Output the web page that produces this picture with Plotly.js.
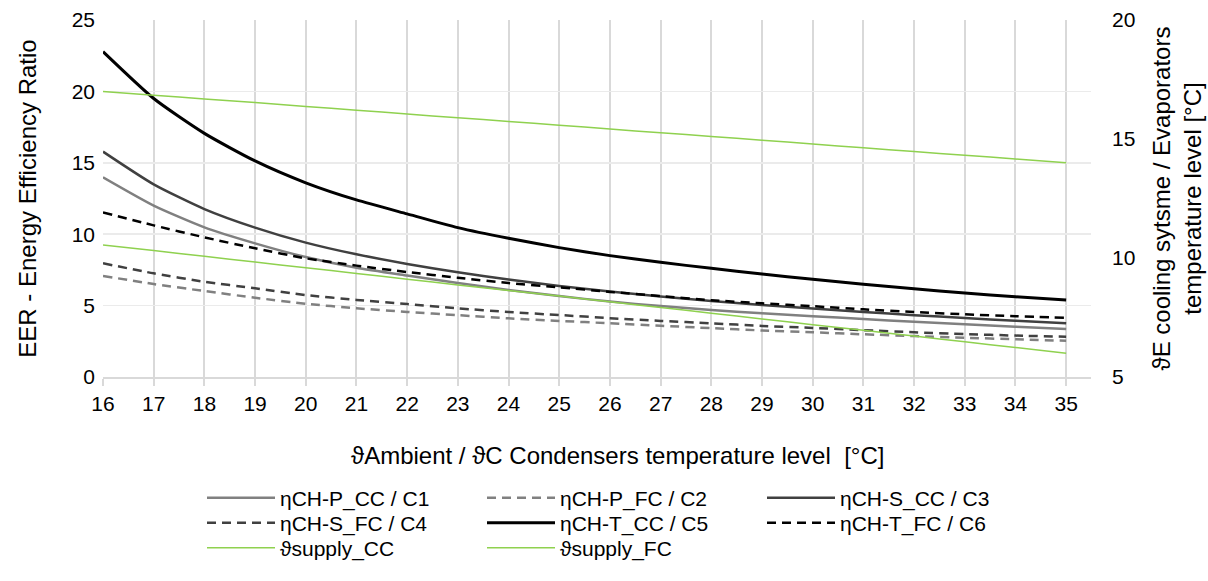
<!DOCTYPE html>
<html>
<head>
<meta charset="utf-8">
<script src="https://cdn.plot.ly/plotly-3.0.1.min.js"></script>
<style>html,body{margin:0;padding:0;background:#fff;}#chart{width:1208px;height:581px;}</style>
</head>
<body>
<div id="chart"></div>
<script>
// Ambient / condenser temperature (°C)
const temps = [16,17,18,19,20,21,22,23,24,25,26,27,28,29,30,31,32,33,34,35];

// EER series (left axis)
const C1 = [13.98,12.00,10.48,9.36,8.40,7.65,7.10,6.58,6.10,5.67,5.28,4.97,4.69,4.46,4.26,4.06,3.87,3.69,3.52,3.36];
const C2 = [7.08,6.51,6.02,5.55,5.13,4.81,4.56,4.33,4.11,3.93,3.76,3.59,3.42,3.26,3.13,2.99,2.87,2.75,2.64,2.54];
const C3 = [15.78,13.49,11.76,10.46,9.41,8.59,7.92,7.33,6.82,6.38,5.99,5.64,5.33,5.05,4.79,4.55,4.33,4.13,3.94,3.76];
const C4 = [7.96,7.26,6.67,6.21,5.74,5.40,5.11,4.81,4.55,4.34,4.12,3.93,3.76,3.58,3.44,3.28,3.13,3.01,2.90,2.82];
const C5 = [22.78,19.50,17.06,15.13,13.60,12.40,11.42,10.46,9.71,9.06,8.50,8.03,7.61,7.21,6.84,6.49,6.18,5.88,5.62,5.39];
const C6 = [11.53,10.62,9.78,9.01,8.31,7.80,7.35,6.95,6.58,6.28,5.96,5.67,5.38,5.16,4.96,4.74,4.55,4.39,4.26,4.15];

// Supply temperatures (right axis, °C)
const supplyCC = [17.00,16.84,16.68,16.53,16.37,16.21,16.05,15.89,15.74,15.58,15.42,15.26,15.11,14.95,14.79,14.63,14.47,14.32,14.16,14.00];
const supplyFC = [10.55,10.31,10.07,9.83,9.59,9.35,9.11,8.87,8.63,8.40,8.16,7.92,7.68,7.44,7.20,6.96,6.72,6.48,6.24,6.00];

const names = ['ηCH-P_CC / C1','ηCH-P_FC / C2','ηCH-S_CC / C3','ηCH-S_FC / C4','ηCH-T_CC / C5','ηCH-T_FC / C6','ϑsupply_CC','ϑsupply_FC'];
const xTitle = 'ϑAmbient / ϑC Condensers temperature level  [°C]';
const yTitle = 'EER - Energy Efficiency Ratio';
const y2Title = 'ϑE cooling sytsme / Evaporators<br>temperature level [°C]';

const FONT = 'Liberation Sans, Arial, sans-serif';
const GREEN = '#8fd14f';
const sm = 0.6;

function tr(y, name, color, width, dash, legend, yaxis) {
  return {
    x: temps, y: y, name: name, type: 'scatter', mode: 'lines',
    line: {color: color, width: width, dash: dash, shape: 'spline', smoothing: sm},
    legend: legend, yaxis: yaxis || 'y', hoverinfo: 'x+y+name'
  };
}

// legend rows: row 1 = legend, row 2 = legend2, row 3 = legend3
const data = [
  tr(C1, names[0], '#808080', 2.5, 'solid', 'legend'),
  tr(C2, names[1], '#808080', 2.5, '9px,6px', 'legend'),
  tr(C3, names[2], '#404040', 2.5, 'solid', 'legend'),
  tr(C4, names[3], '#404040', 2.5, '9px,6px', 'legend2'),
  tr(C5, names[4], '#000000', 3, 'solid', 'legend2'),
  tr(C6, names[5], '#000000', 2.5, '9px,6px', 'legend2'),
  tr(supplyCC, names[6], GREEN, 1.5, 'solid', 'legend3', 'y2'),
  tr(supplyFC, names[7], GREEN, 1.5, 'solid', 'legend3', 'y2')
];

const FW = 1208, FH = 581;
const L = 103, R = 117, T = 20, B = 204;
const W = FW - L - R, H = FH - T - B;
const px = v => (v - L) / W;
const py = v => (T + H - v) / H;

function leg(ycenter) {
  return {
    xref: 'container', yref: 'container',
    x: 202 / FW, y: 1 - ycenter / FH, xanchor: 'left', yanchor: 'middle',
    orientation: 'h', entrywidth: 197, entrywidthmode: 'pixels',
    font: {family: FONT, size: 21, color: '#000'}, itemwidth: 68,
    bgcolor: 'rgba(0,0,0,0)', traceorder: 'normal'
  };
}

const layout = {
  width: FW, height: FH,
  margin: {l: L, r: R, t: T, b: B, pad: 0, autoexpand: false},
  paper_bgcolor: '#fff', plot_bgcolor: '#fff',
  font: {family: FONT, color: '#000'},
  showlegend: true,
  xaxis: {
    range: [16, 35.49], tickvals: temps, ticktext: temps.map(String),
    showgrid: true, gridcolor: '#d9d9d9', gridwidth: 2,
    ticks: 'outside', ticklen: 7, tickwidth: 2, tickcolor: '#d9d9d9',
    showline: true, linecolor: '#d9d9d9', linewidth: 2,
    zeroline: false, tickfont: {family: FONT, size: 21, color: '#000'}
  },
  yaxis: {
    range: [0, 25], dtick: 5, showgrid: true, gridcolor: '#ebebeb', gridwidth: 1.5,
    zeroline: false, showline: false, ticks: '', ticklabelstandoff: 7,
    tickfont: {family: FONT, size: 21, color: '#000'},
    title: {text: yTitle, font: {family: FONT, size: 24, color: '#000'}, standoff: 28}
  },
  yaxis2: {
    range: [5, 20], dtick: 5, overlaying: 'y', side: 'right', showgrid: false,
    zeroline: false, showline: false, ticks: '', ticklabelstandoff: 20,
    tickfont: {family: FONT, size: 21, color: '#000'},
    title: {text: y2Title, font: {family: FONT, size: 24, color: '#000'}, standoff: 18}
  },
  annotations: [{
    text: xTitle, xref: 'paper', yref: 'paper', x: px(617), y: py(455),
    xanchor: 'center', yanchor: 'middle', showarrow: false,
    font: {family: FONT, size: 24, color: '#000'}
  }],
  legend: leg(498),
  legend2: leg(523),
  legend3: leg(548)
};

Plotly.newPlot('chart', data, layout, {displayModeBar: false, staticPlot: true});
</script>
</body>
</html>
